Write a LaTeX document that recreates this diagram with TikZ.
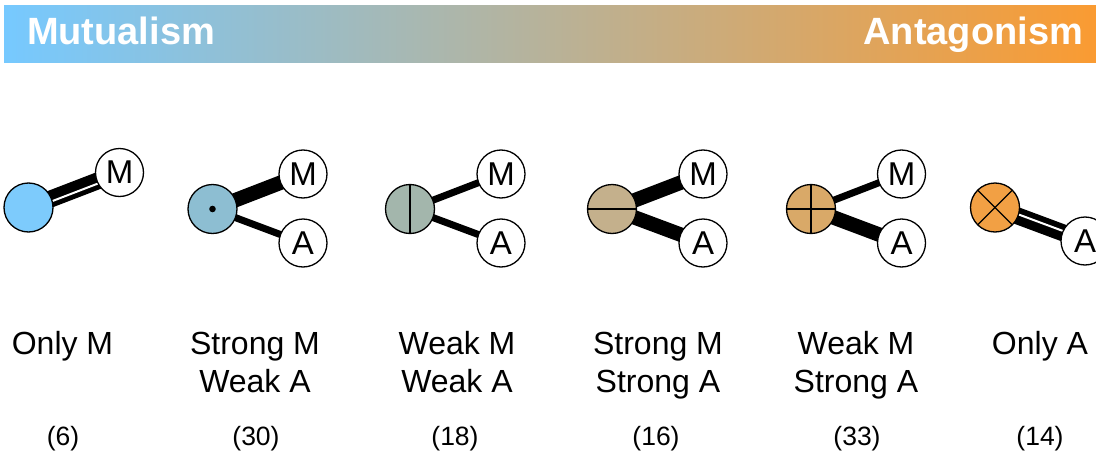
\documentclass[tikz,border=0pt]{standalone}
\usepackage{fontspec}
\setmainfont{Liberation Sans}
\pgfdeclarelayer{bg}
\pgfsetlayers{bg,main}
\definecolor{cM}{RGB}{118,201,255}
\definecolor{cA}{RGB}{250,155,50}
\definecolor{f1}{RGB}{125,203,252}
\definecolor{f2}{RGB}{141,190,210}
\definecolor{f3}{RGB}{163,182,172}
\definecolor{f4}{RGB}{196,176,140}
\definecolor{f5}{RGB}{217,169,104}
\definecolor{f6}{RGB}{242,160,68}
\tikzset{
  big/.style={circle, draw, line width=1.3pt, minimum size=49pt, inner sep=0pt, outer sep=0pt},
  small/.style={circle, draw, fill=white, line width=1.3pt, minimum size=48pt, inner sep=0pt, outer sep=0pt, font=\fontsize{33}{33}\selectfont},
  lbl/.style={anchor=base, font=\fontsize{32}{32}\selectfont},
  cnt/.style={anchor=base, font=\fontsize{26.5}{26.5}\selectfont},
  ban/.style={anchor=base, text=white, font=\fontsize{38}{38}\selectfont\bfseries},
  strong/.style={line width=14.5pt},
  weak/.style={line width=7pt},
  innerline/.style={line width=1.3pt},
}
\begin{document}
\begin{tikzpicture}[x=1pt,y=-1pt]
\useasboundingbox (0,0) rectangle (1096,455);
% banner
\shade[left color=cM, right color=cA] (4,5) rectangle (1096,62);
\node[ban, anchor=base west] (mut) at (23.5,44) {Mutualism};
\node[ban, anchor=base east] (ant) at (1086.5,44) {Antagonism};
% circles
\node[big, fill=f1] (b1) at (28.5,207.5) {};
\node[small] (m1) at (119.5,172.5) {M};
\node[big, fill=f2] (b2) at (212.5,209) {};
\node[small] (m2) at (303,174) {M};
\node[small] (a2) at (303,243) {A};
\node[big, fill=f3] (b3) at (410,209) {};
\node[small] (m3) at (501,174) {M};
\node[small] (a3) at (501,243) {A};
\node[big, fill=f4] (b4) at (612,209) {};
\node[small] (m4) at (703,174) {M};
\node[small] (a4) at (703,243) {A};
\node[big, fill=f5] (b5) at (811,209) {};
\node[small] (m5) at (901.5,174) {M};
\node[small] (a5) at (901.5,243) {A};
\node[big, fill=f6] (b6) at (995,207.5) {};
\node[small] (a6) at (1085,241) {A};
% edges
\begin{pgfonlayer}{bg}
\draw[line width=17pt] (b1.center) -- (m1.center);
\draw[white, line width=2pt, transform canvas={shift={(0.9,2.4)}}] (b1.center) -- (m1.center);
\draw[strong] (b2.center) -- (m2.center);
\draw[weak] (b2.center) -- (a2.center);
\draw[weak] (b3.center) -- (m3.center);
\draw[weak] (b3.center) -- (a3.center);
\draw[strong] (b4.center) -- (m4.center);
\draw[strong] (b4.center) -- (a4.center);
\draw[weak] (b5.center) -- (m5.center);
\draw[strong] (b5.center) -- (a5.center);
\draw[line width=17pt] (b6.center) -- (a6.center);
\draw[white, line width=2pt, transform canvas={shift={(0.6,-1.6)}}] (b6.center) -- (a6.center);
\end{pgfonlayer}
% interior marks
\fill (b2.center) circle (3.3);
\draw[innerline] (b3.north) -- (b3.south);
\draw[innerline] (b4.west) -- (b4.east);
\draw[innerline] (b5.north) -- (b5.south);
\draw[innerline] (b5.west) -- (b5.east);
\draw[innerline] (b6.north west) -- (b6.south east);
\draw[innerline] (b6.north east) -- (b6.south west);
% labels
\node[lbl] (l1) at (62.5,354) {Only M};
\node[lbl] (l2a) at (255,354) {Strong M};
\node[lbl] (l2b) at (255,392) {Weak A};
\node[lbl] (l3a) at (457,354) {Weak M};
\node[lbl] (l3b) at (457,392) {Weak A};
\node[lbl] (l4a) at (658,354) {Strong M};
\node[lbl] (l4b) at (658,392) {Strong A};
\node[lbl] (l5a) at (856,354) {Weak M};
\node[lbl] (l5b) at (856,392) {Strong A};
\node[lbl] (l6) at (1040,354) {Only A};
% counts
\node[cnt] (c1) at (63,445) {(6)};
\node[cnt] (c2) at (256,445) {(30)};
\node[cnt] (c3) at (455,445) {(18)};
\node[cnt] (c4) at (656,445) {(16)};
\node[cnt] (c5) at (857,445) {(33)};
\node[cnt] (c6) at (1040,445) {(14)};
\end{tikzpicture}
\end{document}
